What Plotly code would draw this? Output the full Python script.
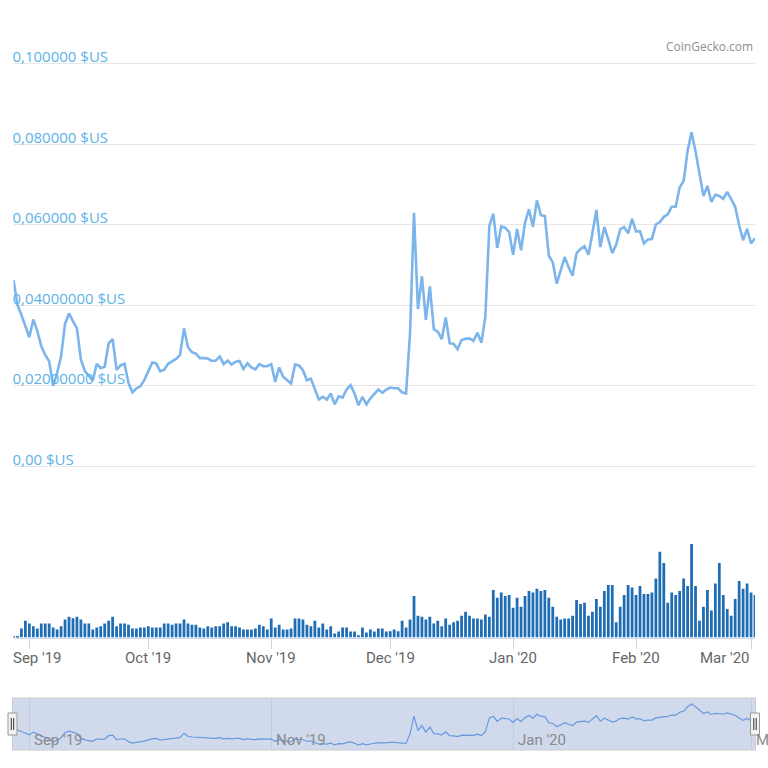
import pandas as pd
import plotly.graph_objects as go

start_date = "2019-08-28"
price = [
    0.0462, 0.0400, 0.0375, 0.0350, 0.0320, 0.0364, 0.0336, 0.0298, 0.0276, 0.0260,
    0.0199, 0.0231, 0.0272, 0.0353, 0.0379, 0.0360, 0.0342, 0.0264, 0.0236, 0.0224,
    0.0212, 0.0254, 0.0243, 0.0247, 0.0305, 0.0315, 0.0239, 0.0250, 0.0254, 0.0206,
    0.0183, 0.0193, 0.0198, 0.0214, 0.0235, 0.0257, 0.0255, 0.0235, 0.0239, 0.0254,
    0.0260, 0.0266, 0.0276, 0.0342, 0.0295, 0.0283, 0.0279, 0.0268, 0.0268, 0.0267,
    0.0261, 0.0262, 0.0272, 0.0253, 0.0262, 0.0252, 0.0259, 0.0261, 0.0241, 0.0255,
    0.0245, 0.0240, 0.0253, 0.0248, 0.0248, 0.0253, 0.0209, 0.0245, 0.0222, 0.0213,
    0.0205, 0.0252, 0.0250, 0.0238, 0.0213, 0.0217, 0.0193, 0.0165, 0.0172, 0.0165,
    0.0180, 0.0153, 0.0173, 0.0170, 0.0190, 0.0201, 0.0180, 0.0151, 0.0172, 0.0153,
    0.0168, 0.0180, 0.0190, 0.0182, 0.0190, 0.0195, 0.0193, 0.0193, 0.0183, 0.0180,
    0.0330, 0.0629, 0.0390, 0.0471, 0.0363, 0.0446, 0.0340, 0.0334, 0.0315, 0.0369,
    0.0305, 0.0303, 0.0290, 0.0313, 0.0316, 0.0317, 0.0311, 0.0331, 0.0306, 0.0371,
    0.0596, 0.0627, 0.0542, 0.0595, 0.0592, 0.0581, 0.0525, 0.0589, 0.0536, 0.0604,
    0.0638, 0.0594, 0.0660, 0.0623, 0.0621, 0.0523, 0.0506, 0.0453, 0.0486, 0.0519,
    0.0494, 0.0473, 0.0529, 0.0539, 0.0546, 0.0525, 0.0579, 0.0636, 0.0544, 0.0594,
    0.0563, 0.0529, 0.0550, 0.0588, 0.0594, 0.0578, 0.0614, 0.0583, 0.0583, 0.0553,
    0.0563, 0.0564, 0.0600, 0.0606, 0.0619, 0.0625, 0.0644, 0.0644, 0.0692, 0.0708,
    0.0783, 0.0829, 0.0782, 0.0729, 0.0671, 0.0696, 0.0656, 0.0674, 0.0671, 0.0664,
    0.0681, 0.0663, 0.0644, 0.0598, 0.0561, 0.0589, 0.0553, 0.0566,
]
volume = [
    4, 4, 27, 50, 42, 34, 27, 42, 42, 42,
    30, 24, 34, 54, 62, 58, 62, 54, 42, 42,
    24, 30, 34, 42, 50, 62, 34, 42, 42, 38,
    27, 27, 30, 30, 34, 30, 30, 30, 42, 42,
    38, 42, 42, 54, 42, 38, 38, 30, 27, 34,
    30, 34, 34, 42, 46, 34, 34, 30, 24, 24,
    24, 27, 38, 34, 24, 57, 30, 38, 24, 24,
    27, 57, 57, 54, 38, 34, 50, 30, 42, 24,
    34, 12, 18, 30, 30, 18, 18, 7, 30, 15,
    24, 18, 27, 27, 18,
    19, 24, 19, 50, 30, 54, 124, 65,
    62, 54, 62, 42, 50, 34, 57, 38, 46, 50,
    65, 77, 65, 57, 57, 54, 69, 62, 142, 119,
    135, 124, 127, 89, 119, 92, 124, 139, 135, 146,
    139, 142, 119, 92, 62, 54, 57, 57, 65, 112,
    100, 104, 65, 77, 115, 92, 139, 157, 157, 46,
    92, 127, 157, 150, 127, 154, 130, 130, 135, 177,
    257, 223, 104, 135, 127, 139, 177, 154, 280, 154,
    50, 92, 142, 81, 162, 223, 127, 85, 65, 115,
    169, 146, 162, 135, 127,
]
price_ticks = [0.0, 0.02, 0.04, 0.06, 0.08, 0.10]
price_tick_text = ["0,00 $US", "0,02000000 $US", "0,04000000 $US",
                   "0,060000 $US", "0,080000 $US", "0,100000 $US"]
month_ticks = ["2019-09-01", "2019-10-01", "2019-11-01", "2019-12-01",
               "2020-01-01", "2020-02-01", "2020-03-01"]
month_labels = ["Sep '19", "Oct '19", "Nov '19", "Dec '19", "Jan '20", "Feb '20", "Mar '20"]
nav_ticks = ["2019-09-01", "2019-11-01", "2020-01-01", "2020-03-01"]
nav_labels = ["Sep '19", "Nov '19", "Jan '20", "M"]

dates = pd.date_range(start_date, periods=len(price), freq="D")

W = 768.0
def px(p):
    return p / W

def py(p):
    return 1 - p / W

x_dom = [px(13.5), px(755)]
x_range = [dates[0], dates[-1]]

fig = go.Figure()
fig.add_trace(go.Scatter(x=dates, y=price, mode="lines",
                         line=dict(color="#7cb5ec", width=2.6),
                         xaxis="x", yaxis="y", hoverinfo="skip"))
fig.add_trace(go.Bar(x=dates, y=volume, marker=dict(color="#1f6db5", line=dict(width=0)),
                     xaxis="x2", yaxis="y2", hoverinfo="skip"))
fig.add_trace(go.Scatter(x=dates, y=price, mode="lines",
                         line=dict(color="#6699dd", width=1.2),
                         xaxis="x3", yaxis="y3", hoverinfo="skip"))

# price axis mapping: 0 at px 466, 0.1 at px 63.5
ppu = (466 - 63.5) / 0.1
top_px, bot_px = 30, 470
y_range = [-(bot_px - 466) / ppu, 0.1 + (63.5 - top_px) / ppu]

vol_top_px, vol_bot_px = 480, 637.5
vpu = (637.5 - 544) / 280.0
vol_range = [0, (vol_bot_px - vol_top_px) / vpu]

nav_top, nav_bot = 698, 750
nav_ppu = (745 - 704) / (max(price) - min(price))
nav_range = [min(price) - (nav_bot - 745) / nav_ppu, max(price) + (704 - nav_top) / nav_ppu]

fig.update_layout(
    width=768, height=768,
    margin=dict(l=0, r=0, t=0, b=0),
    paper_bgcolor="white", plot_bgcolor="rgba(0,0,0,0)",
    showlegend=False, bargap=0.3,
    font=dict(family="Open Sans", size=14, color="#666666"),
    xaxis=dict(domain=x_dom, range=x_range, anchor="y", showticklabels=False,
               showgrid=False, zeroline=False, showline=False, ticks=""),
    yaxis=dict(domain=[py(bot_px), py(top_px)], range=y_range, anchor="x",
               tickvals=price_ticks, ticktext=price_tick_text,
               ticklabelposition="inside top", ticks="",
               ticklabelstandoff=-4, ticklabelshift=4,
               tickfont=dict(family="Open Sans", size=15, color="#5cb3e8"),
               showgrid=True, gridcolor="#e6e6e6", gridwidth=1,
               zeroline=False, showline=False),
    xaxis2=dict(domain=x_dom, range=x_range, anchor="y2", matches="x",
                tickvals=month_ticks, showticklabels=False,
                ticks="outside", ticklen=10, tickcolor="#ccd6eb", tickwidth=1,
                showline=True, linecolor="#ccd6eb", linewidth=1,
                showgrid=False, zeroline=False),
    yaxis2=dict(domain=[py(vol_bot_px), py(vol_top_px)], range=vol_range, anchor="x2",
                showticklabels=False, showgrid=False, zeroline=False, showline=False, ticks=""),
    xaxis3=dict(domain=x_dom, range=x_range, anchor="y3", matches="x",
                tickvals=nav_ticks, showticklabels=False, ticks="",
                showgrid=True, gridcolor="#c3cbdd", gridwidth=1,
                zeroline=False, showline=False),
    yaxis3=dict(domain=[py(nav_bot), py(nav_top)], range=nav_range, anchor="x3",
                showticklabels=False, showgrid=False, zeroline=False, showline=False, ticks=""),
)

shapes = [
    dict(type="rect", xref="paper", yref="paper", x0=px(12.5), x1=px(755.5),
         y0=py(nav_bot), y1=py(nav_top), fillcolor="rgba(102,133,194,0.3)",
         line=dict(color="#cccccc", width=1), layer="below"),
]
for cx in (12.5, 755):
    shapes.append(dict(type="rect", xref="paper", yref="paper",
                       x0=px(cx - 4.5), x1=px(cx + 4.5), y0=py(735), y1=py(713),
                       fillcolor="#f2f2f2", line=dict(color="#999999", width=1), layer="above"))
    for dx in (-1.2, 1.2):
        shapes.append(dict(type="line", xref="paper", yref="paper",
                           x0=px(cx + dx), x1=px(cx + dx), y0=py(730), y1=py(718),
                           line=dict(color="#333333", width=1), layer="above"))
fig.update_layout(shapes=shapes)

ann = [dict(text="CoinGecko.com", xref="paper", yref="paper", x=px(755), y=py(46),
            xanchor="right", yanchor="middle", showarrow=False,
            font=dict(family="Open Sans", size=12, color="#909090"))]
for i, (t, lab) in enumerate(zip(month_ticks, month_labels)):
    if i == 0:
        xa, xs = "left", -18
    elif i == len(month_ticks) - 1:
        xa, xs = "right", 1
    else:
        xa, xs = "center", 0
    ann.append(dict(text=lab, x=t, xref="x2", yref="paper", y=py(658),
                    xanchor=xa, yanchor="middle", xshift=xs, showarrow=False,
                    font=dict(family="Roboto", size=15, color="#666666")))
for t, lab in zip(nav_ticks, nav_labels):
    ann.append(dict(text=lab, x=t, xref="x3", yref="paper", y=py(740),
                    xanchor="left", yanchor="middle", xshift=3, showarrow=False,
                    font=dict(family="Roboto", size=15, color="#8a8a8a")))
fig.update_layout(annotations=ann)

fig.write_html("out.html")
